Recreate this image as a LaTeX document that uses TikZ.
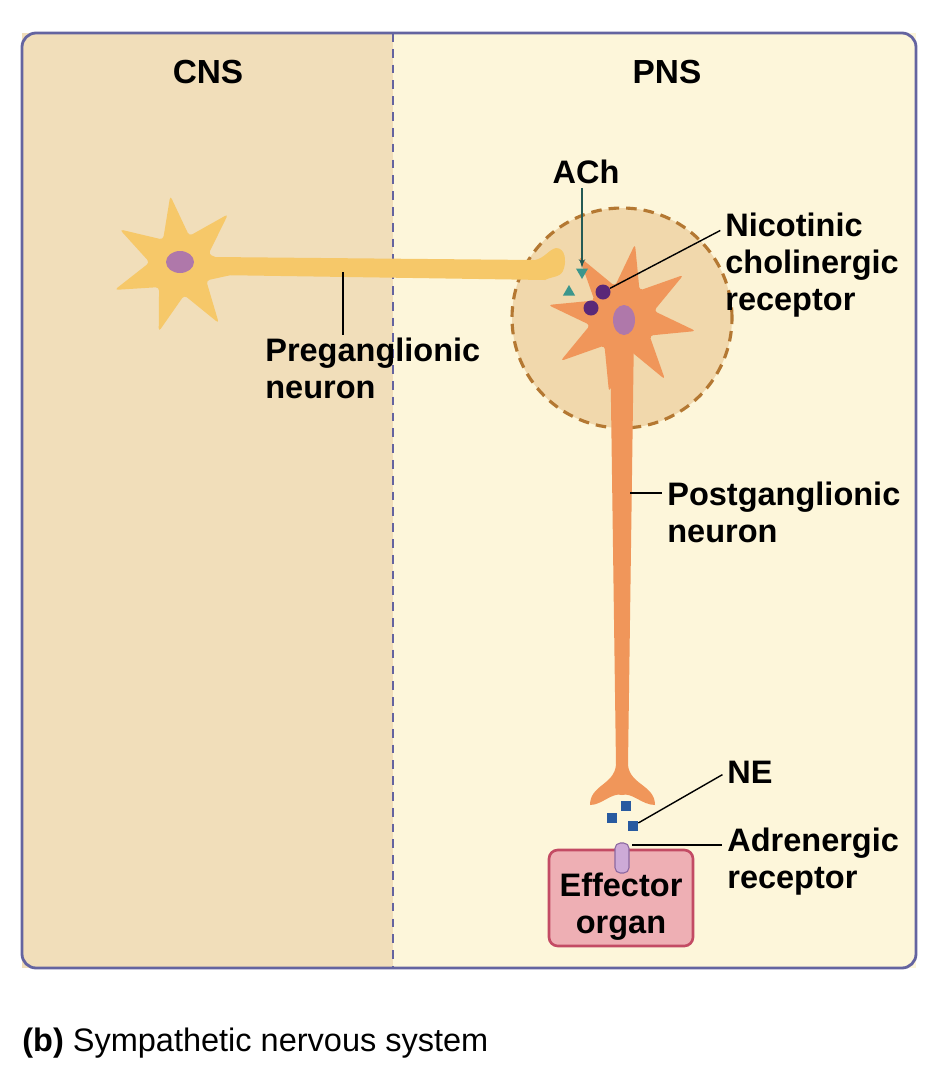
\documentclass[tikz,border=0pt]{standalone}
\usepackage{fontspec}
\setmainfont{Liberation Sans}
\usetikzlibrary{arrows,positioning,shapes.geometric}
\definecolor{cnsbg}{RGB}{241,222,186}
\definecolor{pnsbg}{RGB}{253,246,218}
\definecolor{framec}{RGB}{100,100,160}
\definecolor{preneu}{RGB}{246,200,105}
\definecolor{postneu}{RGB}{240,150,90}
\definecolor{gang}{RGB}{241,216,172}
\definecolor{gangb}{RGB}{180,120,50}
\definecolor{nucl}{RGB}{175,120,170}
\definecolor{achc}{RGB}{60,150,140}
\definecolor{recc}{RGB}{90,40,120}
\definecolor{nec}{RGB}{40,90,160}
\definecolor{adrc}{RGB}{205,170,215}
\definecolor{organ}{RGB}{238,175,180}
\definecolor{organb}{RGB}{195,75,100}
\tikzstyle{lbl}=[font=\bfseries\fontsize{18.5}{21}\selectfont, align=left, inner sep=0pt]
\tikzstyle{lead}=[draw, line width=0.8pt, shorten >=3pt]
\tikzstyle{soma}=[star, star point ratio=2.3, inner sep=0pt, rounded corners=2pt]
\begin{document}
\begin{tikzpicture}[x=0.02cm,y=-0.02cm,>=latex']
\useasboundingbox (0,0) rectangle (948,1076);
% panels
\fill[cnsbg] (22,33) rectangle (393,968);
\fill[pnsbg] (393,33) rectangle (916,968);
\draw[framec, line width=1.6pt, rounded corners=8pt] (22,33) rectangle (916,968);
\draw[framec, line width=1.3pt, dash pattern=on 5pt off 4pt] (393,33) -- (393,968);
\node[lbl, font=\fontsize{19}{21}\selectfont\bfseries] (cns) at (208,72) {CNS};
\node[lbl, font=\fontsize{19}{21}\selectfont\bfseries] (pns) at (667,72) {PNS};
% ganglion
\node[circle, draw=gangb, fill=gang, line width=1.8pt, dash pattern=on 6pt off 4pt, minimum size=220*0.02cm] (gang) at (622,318) {};
% preganglionic neuron
\fill[preneu] (215,257) -- (535,260) .. controls (545,258) and (548,250) .. (556,248) .. controls (566,248) and (566,262) .. (564,268) .. controls (562,278) and (552,276) .. (545,280) -- (215,275) -- cycle;
\node[soma, star points=7, fill=preneu, minimum size=140*0.02cm, rotate=8] (presoma) at (180,265) {};
\node[ellipse, fill=nucl, minimum width=28*0.02cm, minimum height=22*0.02cm] (prenuc) at (180,262) {};
% postganglionic neuron
\fill[postneu] (610,330) -- (634,330) -- (628,765) .. controls (630,785) and (655,785) .. (655,805) .. controls (642,805) and (632,792) .. (622,795) .. controls (612,792) and (602,805) .. (590,805) .. controls (590,785) and (614,785) .. (616,765) -- cycle;
\node[soma, star points=8, fill=postneu, minimum size=150*0.02cm, rotate=-10] (postsoma) at (622,318) {};
\node[ellipse, fill=nucl, minimum width=22*0.02cm, minimum height=30*0.02cm] (postnuc) at (624,320) {};
% ACh and nicotinic receptors
\node[regular polygon, regular polygon sides=3, fill=achc, minimum size=14*0.02cm, inner sep=0pt, shape border rotate=180] (ach1) at (582,272) {};
\node[regular polygon, regular polygon sides=3, fill=achc, minimum size=14*0.02cm, inner sep=0pt] (ach2) at (569,292) {};
\node[circle, fill=recc, minimum size=15*0.02cm, inner sep=0pt] (rec1) at (603,292) {};
\node[circle, fill=recc, minimum size=15*0.02cm, inner sep=0pt] (rec2) at (591,308) {};
% NE and adrenergic receptor
\foreach \nx/\ny [count=\i] in {612/818, 626/806, 633/826}
  \node[fill=nec, minimum size=10*0.02cm, inner sep=0pt] (ne\i) at (\nx,\ny) {};
% effector organ
\node[draw=organb, fill=organ, line width=1.5pt, rounded corners=5pt, minimum width=144*0.02cm, minimum height=96*0.02cm] (organ) at (621,898) {};
\node[lbl, align=center] (organtxt) at (621,907) {Effector\\organ};
\node[rounded corners=3pt, draw=recc!70, fill=adrc, line width=0.6pt, minimum width=14*0.02cm, minimum height=30*0.02cm, inner sep=0pt] (adr) at (622,858) {};
% labels
\node[lbl] (achl) at (586,172) {ACh};
\node[lbl, anchor=west] (nicl) at (725,265) {Nicotinic\\cholinergic\\receptor};
\node[lbl, anchor=north west] (prel) at (265,338) {Preganglionic\\neuron};
\node[lbl, anchor=west] (postl) at (667,512) {Postganglionic\\neuron};
\node[lbl, anchor=west] (nel) at (727,772) {NE};
\node[lbl, anchor=west] (adrl) at (727,862) {Adrenergic\\receptor};
\coordinate (prept) at (343,272);
\coordinate (postpt) at (630,493);
\coordinate (adrpt) at (632,845);
\draw[->, achc!60!black, line width=0.8pt] (achl.south) ++(-4,4) -- (ach1.north);
\draw[lead] (rec1) -- (nicl.west |- 0,228);
\draw[lead] (prept) -- (343,340);
\draw[lead] (postpt) -- (postl.west |- 0,493);
\draw[lead] (ne3) -- (nel.west);
\draw[lead] (adrpt) -- (adrl.west |- 0,845);
% caption
\node[anchor=west, inner sep=0pt, font=\fontsize{18.5}{21}\selectfont] (cap) at (22,1043) {\textbf{(b)} Sympathetic nervous system};
\end{tikzpicture}
\end{document}
